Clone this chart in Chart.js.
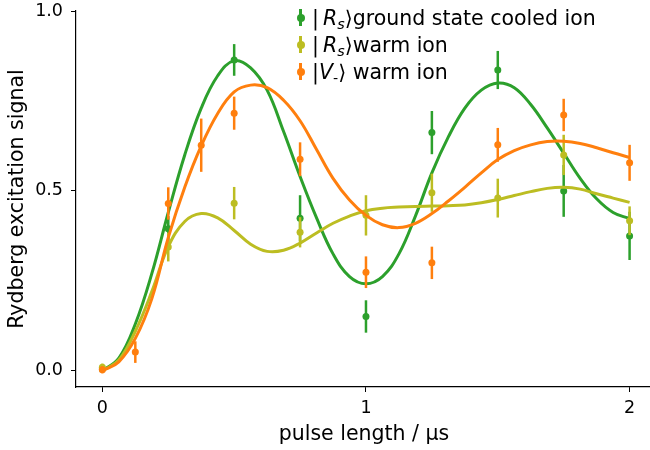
<!DOCTYPE html>
<html>
<head>
<meta charset="utf-8">
<script src="https://cdn.jsdelivr.net/npm/chart.js@4"></script>
<style>
  body { margin: 0; background: #fff; overflow: hidden; }
  #wrap { position: relative; width: 650px; height: 450px; overflow: hidden; }
  #legend { position: absolute; left: 294px; top: 5px; font-family: 'DejaVu Sans'; font-size: 20.5px; color: #000; }
  #legend .row { position: relative; height: 27px; line-height: 27px; padding-left: 18px; white-space: nowrap; }
  #legend .bar { position: absolute; left: 5px; top: 4px; width: 3px; height: 17px; }
  #legend .dot { position: absolute; left: 2.5px; top: 9px; width: 8px; height: 8px; border-radius: 50%; }
  #legend i { font-style: italic; }
  #legend .sub { font-size: 0.7em; position: relative; top: 0.3em; }
</style>
</head>
<body>
<div id="wrap">
  <canvas id="chart" width="656" height="450"></canvas>
  <div id="legend"></div>
</div>
<script>
// measured points (pulse length in us)
const ptsX = [0, 0.25, 0.5, 0.75, 1.0, 1.25, 1.5, 1.75, 2.0];
const orangeX = [0, 0.125, 0.25, 0.375, 0.5, 0.75, 1.0, 1.25, 1.5, 1.75, 2.0];

const greenY = [0.005, 0.395, 0.864, 0.424, 0.151, 0.662, 0.836, 0.500, 0.375];
const greenErr = [0.01, 0.035, 0.044, 0.064, 0.045, 0.06, 0.053, 0.072, 0.067];
const yellowY = [0.01, 0.344, 0.466, 0.385, 0.432, 0.495, 0.480, 0.600, 0.417];
const yellowErr = [0.01, 0.04, 0.045, 0.042, 0.056, 0.053, 0.054, 0.056, 0.04];
const orangeY = [0.003, 0.052, 0.465, 0.627, 0.716, 0.588, 0.274, 0.300, 0.628, 0.711, 0.578];
const orangeErr = [0.01, 0.03, 0.045, 0.074, 0.046, 0.047, 0.044, 0.045, 0.047, 0.045, 0.05];

// fit curves
const fitX = [0, 0.0625, 0.125, 0.1875, 0.25, 0.3125, 0.375, 0.4375, 0.5, 0.5625, 0.625, 0.6875,
  0.75, 0.8125, 0.875, 0.9375, 1.0, 1.0625, 1.125, 1.1875, 1.25, 1.3125, 1.375, 1.4375,
  1.5, 1.5625, 1.625, 1.6875, 1.75, 1.8125, 1.875, 1.9375, 2.0];
const greenFit = [0.0, 0.035, 0.13, 0.27, 0.44, 0.6, 0.73, 0.82, 0.862, 0.842, 0.78, 0.665,
  0.54, 0.425, 0.325, 0.262, 0.242, 0.262, 0.325, 0.43, 0.55, 0.65, 0.73, 0.78,
  0.8, 0.787, 0.74, 0.675, 0.605, 0.535, 0.478, 0.44, 0.423];
const yellowFit = [0.0, 0.03, 0.11, 0.22, 0.345, 0.415, 0.437, 0.425, 0.39, 0.352, 0.332, 0.335,
  0.355, 0.383, 0.41, 0.43, 0.445, 0.452, 0.455, 0.457, 0.458, 0.459, 0.461, 0.467,
  0.476, 0.487, 0.498, 0.507, 0.51, 0.505, 0.492, 0.48, 0.468];
const orangeFit = [0.0, 0.025, 0.09, 0.2, 0.37, 0.51, 0.625, 0.715, 0.775, 0.794, 0.787, 0.752,
  0.695, 0.615, 0.535, 0.475, 0.432, 0.406, 0.398, 0.41, 0.437, 0.472, 0.51, 0.55,
  0.587, 0.612, 0.628, 0.637, 0.638, 0.632, 0.62, 0.606, 0.593];

const xTicks = [0, 1, 2];
const yTicks = [0, 0.5, 1.0];

const GREEN = '#2ca02c', YELLOW = '#bcbd22', ORANGE = '#ff7f0e';

const zip = (xs, ys) => xs.map((x, i) => ({ x: x, y: ys[i] }));

function fitSet(data, color, order) {
  return { data: zip(fitX, data), borderColor: color, borderWidth: 3, pointRadius: 0,
    tension: 0.4, fill: false, order: order };
}
function ptSet(label, xs, ys, errs, color, order) {
  return { label: label, data: zip(xs, ys), errors: errs, showLine: false, borderColor: color,
    backgroundColor: color, pointRadius: 3.5, pointBorderWidth: 0, order: order };
}

// vertical error bars under each point set
const errorBars = {
  id: 'errorBars',
  beforeDatasetDraw(chart, args) {
    const ds = chart.data.datasets[args.index];
    if (!ds.errors) return;
    const ctx = chart.ctx, xs = chart.scales.x, ys = chart.scales.y;
    ctx.save();
    ctx.strokeStyle = ds.borderColor;
    ctx.lineWidth = 2.5;
    ds.data.forEach((p, i) => {
      const px = xs.getPixelForValue(p.x);
      ctx.beginPath();
      ctx.moveTo(px, ys.getPixelForValue(p.y - ds.errors[i]));
      ctx.lineTo(px, ys.getPixelForValue(p.y + ds.errors[i]));
      ctx.stroke();
    });
    ctx.restore();
  }
};

const font = { family: 'DejaVu Sans', size: 17.5 };
const titleFont = { family: 'DejaVu Sans', size: 20.5 };

new Chart(document.getElementById('chart'), {
  type: 'line',
  data: {
    datasets: [
      fitSet(greenFit, GREEN, 6),
      ptSet('ground state cooled ion', ptsX, greenY, greenErr, GREEN, 5),
      fitSet(yellowFit, YELLOW, 4),
      ptSet('warm ion', ptsX, yellowY, yellowErr, YELLOW, 3),
      fitSet(orangeFit, ORANGE, 2),
      ptSet('warm ion', orangeX, orangeY, orangeErr, ORANGE, 1)
    ]
  },
  options: {
    responsive: false,
    animation: false,
    layout: { padding: { top: 11, right: 0, left: 0, bottom: 0 } },
    plugins: { legend: { display: false }, tooltip: { enabled: false } },
    scales: {
      x: {
        type: 'linear', min: -0.1, max: 2.085,
        afterBuildTicks: s => { s.ticks = xTicks.map(v => ({ value: v })); },
        afterFit: s => { s.height = 63; },
        grid: { drawOnChartArea: false, tickLength: 5, color: '#000' },
        border: { display: true, color: '#000', width: 1.2 },
        ticks: { font: font, color: '#000', padding: 6, maxRotation: 0, callback: v => String(v) },
        title: { display: true, text: 'pulse length / µs', font: titleFont,
          color: '#000', padding: { top: 2, bottom: 3 } }
      },
      y: {
        type: 'linear', min: -0.045, max: 1.0,
        afterBuildTicks: s => { s.ticks = yTicks.map(v => ({ value: v })); },
        afterFit: s => { s.width = 76; s.paddingTop = 0; s.paddingBottom = 0; },
        grid: { drawOnChartArea: false, tickLength: 5, color: '#000' },
        border: { display: true, color: '#000', width: 1.2 },
        ticks: { font: font, color: '#000', padding: 8, callback: v => v.toFixed(1) },
        title: { display: true, text: 'Rydberg excitation signal', font: titleFont,
          color: '#000', padding: { top: 5, bottom: 4 } }
      }
    }
  },
  plugins: [errorBars]
});

// legend with the state labels in math style
const legendRows = [
  { color: GREEN, html: '|&thinsp;<i>R</i><i class="sub">s</i>⟩ground state cooled ion' },
  { color: YELLOW, html: '|&thinsp;<i>R</i><i class="sub">s</i>⟩warm ion' },
  { color: ORANGE, html: '|<i>V</i><span class="sub">-</span>⟩ warm ion' }
];
document.getElementById('legend').innerHTML = legendRows.map(r =>
  '<div class="row"><span class="bar" style="background:' + r.color + '"></span>' +
  '<span class="dot" style="background:' + r.color + '"></span>' + r.html + '</div>').join('');
</script>
</body>
</html>
